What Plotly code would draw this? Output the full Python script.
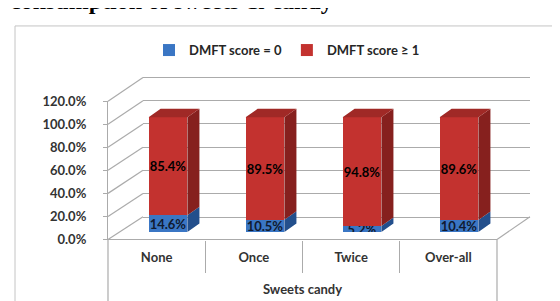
import plotly.graph_objects as go

# ---------------- data ----------------
categories = ["None", "Once", "Twice", "Over-all"]
dmft_zero = [14.6, 10.5, 5.2, 10.4]
dmft_one_plus = [85.4, 89.5, 94.8, 89.6]
series_names = ["DMFT score = 0", "DMFT score \u2265 1"]
tick_values = [0, 20, 40, 60, 80, 100, 120]
tick_labels = ["0.0%", "20.0%", "40.0%", "60.0%", "80.0%", "100.0%", "120.0%"]
x_title = "Sweets candy"
page_title = "consumption of sweets & candy"

# ---------------- geometry (pixels) ----------------
W, H = 560, 301


def fx(px):
    return px / W


def fy(py):
    return (H - py) / H


FRONT_L, FRONT_R, FRONT_Y0, FRONT_Y120 = 100, 489, 236, 90
BACK_L, BACK_R, BACK_Y0, BACK_Y120 = 135, 522, 212, 65
BAR_L, BAR_R, BAR_Y0, BAR_Y120 = 111.5, 499.5, 228, 82.8
YMAX = 120

BAR_W = 0.40          # bar width in category units
DX = 0.124            # depth offset in category units
DY = 7.4              # depth offset in value units

FONT = "Lato"
GRID = "#ABABAB"
TXT = "#333333"

RED_FRONT, RED_SIDE, RED_TOP = "#C3322F", "#86201E", "#A02926"
BLUE_FRONT, BLUE_SIDE = "#3A76C4", "#234F8C"

fig = go.Figure()

# back wall grid (subplot xy)
fig.add_trace(go.Scatter(x=[0], y=[0], mode="markers", marker=dict(opacity=0),
                         showlegend=False, hoverinfo="skip", xaxis="x", yaxis="y"))

# front faces (stacked bars) on x2/y2
xs = list(range(len(categories)))
fig.add_trace(go.Bar(
    x=xs, y=dmft_zero, name=series_names[0], width=BAR_W,
    marker=dict(color=BLUE_FRONT, line=dict(width=0)),
    text=[f"{v:.1f}%" for v in dmft_zero], textposition="inside",
    insidetextanchor="middle", constraintext="none", textangle=0,
    textfont=dict(family=FONT, size=13, color="#101a30", weight="bold"),
    xaxis="x2", yaxis="y2", hoverinfo="skip"))
fig.add_trace(go.Bar(
    x=xs, y=dmft_one_plus, name=series_names[1], width=BAR_W,
    marker=dict(color=RED_FRONT, line=dict(width=0)),
    text=[f"{v:.1f}%" for v in dmft_one_plus], textposition="inside",
    insidetextanchor="middle", constraintext="none", textangle=0,
    textfont=dict(family=FONT, size=13, color="#000000", weight="bold"),
    xaxis="x2", yaxis="y2", hoverinfo="skip"))


def side_poly(i, lo, hi):
    xr = i + BAR_W / 2
    return [xr, xr + DX, xr + DX, xr, xr, None], [lo, lo + DY, hi + DY, hi, lo, None]


def top_poly(i, top):
    xl, xr = i - BAR_W / 2, i + BAR_W / 2
    return [xl, xr, xr + DX, xl + DX, xl, None], [top, top, top + DY, top + DY, top, None]


bx, by, rx, ry, tx, ty = [], [], [], [], [], []
for i, (b, r) in enumerate(zip(dmft_zero, dmft_one_plus)):
    a, c = side_poly(i, 0, b)
    bx += a; by += c
    a, c = side_poly(i, b, b + r)
    rx += a; ry += c
    a, c = top_poly(i, b + r)
    tx += a; ty += c

for px_, py_, col in [(bx, by, BLUE_SIDE), (rx, ry, RED_SIDE), (tx, ty, RED_TOP)]:
    fig.add_trace(go.Scatter(x=px_, y=py_, mode="lines", fill="toself", fillcolor=col,
                             line=dict(width=0, color=col), showlegend=False,
                             hoverinfo="skip", xaxis="x2", yaxis="y2"))

# front axes (x3/y3)
fig.add_trace(go.Scatter(x=[0], y=[0], mode="markers", marker=dict(opacity=0),
                         showlegend=False, hoverinfo="skip", xaxis="x3", yaxis="y3"))

# ---------------- decoration shapes ----------------
shapes = []
# outer chart frame
shapes.append(dict(type="rect", xref="paper", yref="paper",
                   x0=fx(7), x1=fx(558), y0=fy(340), y1=fy(10.5),
                   line=dict(color="#C4C4C4", width=1), fillcolor="rgba(0,0,0,0)", layer="below"))
# side wall diagonals
for v in tick_values:
    yf = FRONT_Y0 - (FRONT_Y0 - FRONT_Y120) * v / YMAX
    yb = BACK_Y0 - (BACK_Y0 - BACK_Y120) * v / YMAX
    shapes.append(dict(type="line", xref="paper", yref="paper",
                       x0=fx(FRONT_L), y0=fy(yf), x1=fx(BACK_L), y1=fy(yb),
                       line=dict(color=GRID, width=1.2), layer="below"))
# floor right diagonal
shapes.append(dict(type="line", xref="paper", yref="paper",
                   x0=fx(FRONT_R), y0=fy(FRONT_Y0), x1=fx(BACK_R), y1=fy(BACK_Y0),
                   line=dict(color=GRID, width=1.2), layer="below"))
# outer dividers of the category axis
for xp in (FRONT_L, FRONT_R):
    shapes.append(dict(type="line", xref="paper", yref="paper",
                       x0=fx(xp), y0=fy(FRONT_Y0), x1=fx(xp), y1=fy(340),
                       line=dict(color=GRID, width=1.2), layer="below"))

axis_off = dict(showgrid=False, zeroline=False, showline=False, showticklabels=False, ticks="")

fig.update_layout(
    width=W, height=H, autosize=False,
    margin=dict(l=0, r=0, t=0, b=0),
    paper_bgcolor="white", plot_bgcolor="rgba(0,0,0,0)",
    barmode="stack",
    showlegend=True,
    legend=dict(orientation="h", x=fx(279), xanchor="center", y=fy(36), yanchor="middle",
                font=dict(family=FONT, size=13, color="#262626", weight="bold"),
                itemwidth=30, bgcolor="rgba(0,0,0,0)", traceorder="normal"),
    # back wall
    xaxis=dict(domain=[fx(BACK_L), fx(BACK_R)], range=[0, 1], showgrid=False, zeroline=False,
               showticklabels=False, ticks="", showline=True, mirror=True,
               linecolor=GRID, linewidth=1.2),
    yaxis=dict(domain=[fy(BACK_Y0), fy(BACK_Y120)], range=[0, YMAX], tickvals=tick_values,
               showgrid=True, gridcolor=GRID, gridwidth=1.2, zeroline=False,
               showticklabels=False, ticks="", showline=False),
    # bars
    xaxis2=dict(domain=[fx(BAR_L), fx(BAR_R)], range=[-0.5, len(categories) - 0.5],
                anchor="y2", **axis_off),
    yaxis2=dict(domain=[fy(BAR_Y0), fy(BAR_Y120)], range=[0, YMAX], anchor="x2", **axis_off),
    # front axes
    xaxis3=dict(domain=[fx(FRONT_L), fx(FRONT_R)], range=[-0.5, len(categories) - 0.5],
                anchor="y3", tickvals=xs, ticktext=categories,
                ticks="outside", ticklen=6, tickcolor="rgba(0,0,0,0)",
                minor=dict(tickmode="array", tickvals=[0.5, 1.5, 2.5], ticks="outside",
                           ticklen=32, tickcolor=GRID, tickwidth=1.2, showgrid=False),
                showline=True, linecolor=GRID, linewidth=1.2, showgrid=False, zeroline=False,
                tickfont=dict(family=FONT, size=13, color=TXT, weight="bold"),
                title=dict(text=x_title, standoff=20,
                           font=dict(family=FONT, size=13, color=TXT, weight="bold"))),
    yaxis3=dict(domain=[fy(FRONT_Y0), fy(FRONT_Y120)], range=[0, YMAX], anchor="x3",
                tickvals=tick_values, ticktext=tick_labels, ticks="outside", ticklen=4,
                tickcolor=GRID, tickwidth=1.2, showline=True, linecolor=GRID, linewidth=1.2,
                showgrid=False, zeroline=False, ticklabelstandoff=14,
                tickfont=dict(family=FONT, size=13, color=TXT, weight="bold")),
    shapes=shapes,
    annotations=[dict(text=page_title, xref="paper", yref="paper", x=fx(0), y=fy(-0.3),
                      xanchor="left", yanchor="bottom", showarrow=False,
                      font=dict(family="Liberation Serif", size=24, color="#000000", weight="bold"))],
)

fig.write_html("out.html")
